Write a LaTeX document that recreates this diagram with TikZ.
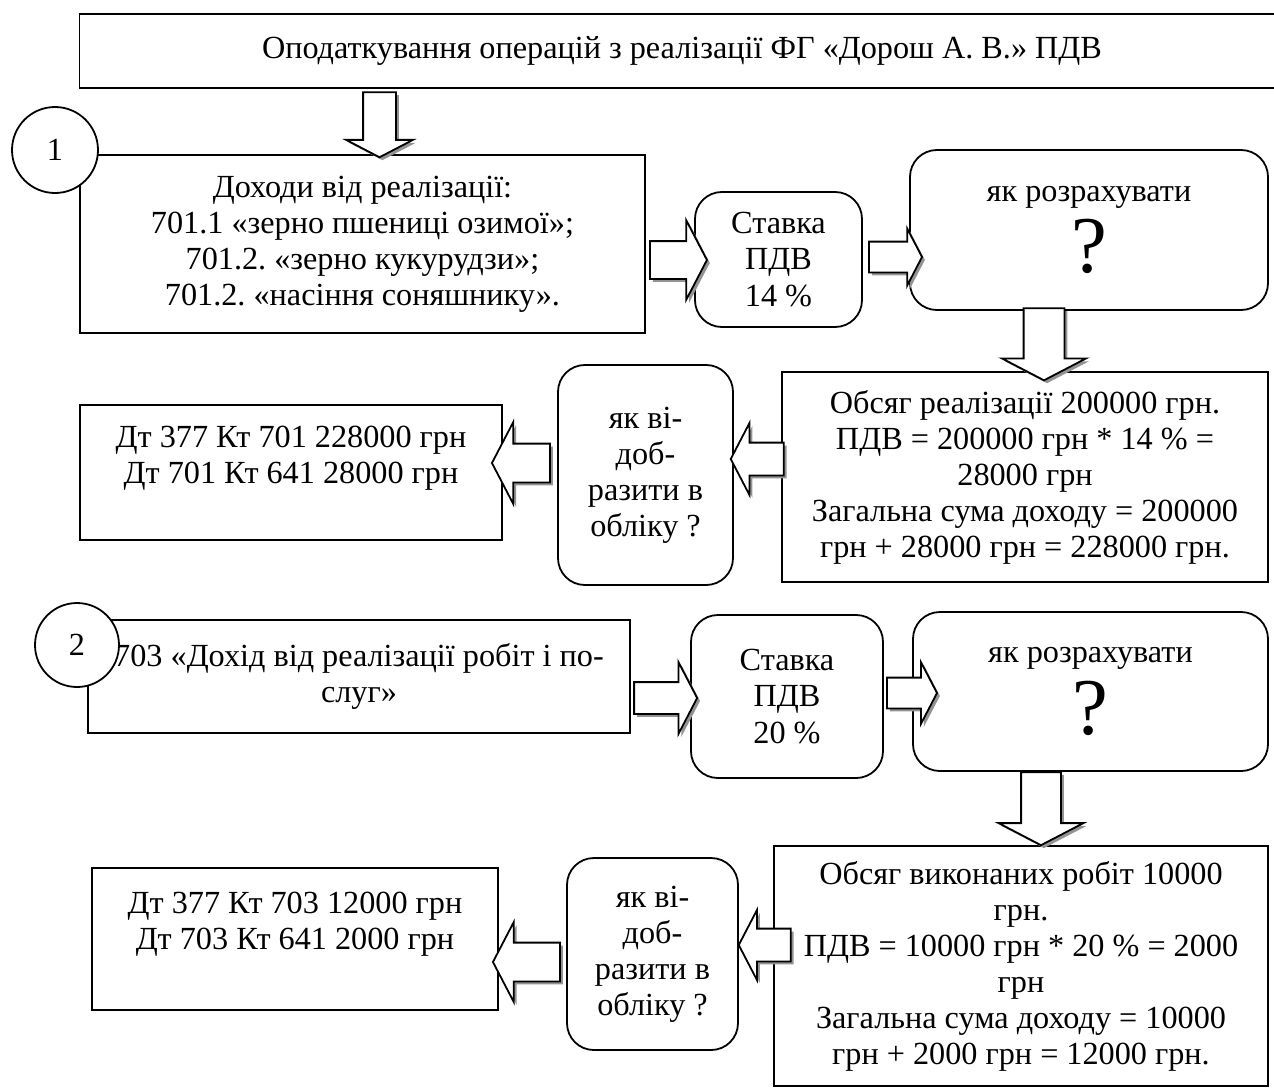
\documentclass[tikz,border=0pt]{standalone}
\usepackage{fontspec}
\setmainfont{Liberation Serif}
\usetikzlibrary{shapes.arrows,shadows}
\newcommand{\px}{0.0157cm}
\newcommand{\Qmark}{{\fontsize{36pt}{36pt}\selectfont ?}}
\tikzset{
  Tbox/.style={draw, line width=0.8pt, align=center, inner sep=0pt,
               font=\fontsize{14.4pt}{16.1pt}\selectfont},
  Rbox/.style={Tbox, rounded corners=12pt},
  Num/.style={draw, circle, line width=0.8pt, fill=white, inner sep=0pt,
              minimum size=86*\px, font=\fontsize{14.4pt}{16.1pt}\selectfont},
  Barr/.style={single arrow, draw, line width=0.8pt, fill=white,
               text height=0pt, text depth=0pt,
               single arrow tip angle=125, single arrow head indent=0pt,
               drop shadow={shadow xshift=1.3pt, shadow yshift=-1.3pt,
                            fill=gray!85, opacity=1}},
  Harr/.style n args={3}{Barr, inner xsep=0pt, inner ysep=#2*\px/2,
               minimum height=#1*\px, single arrow head extend=#3*\px/2-#2*\px/2},
  Varr/.style n args={3}{Barr, inner ysep=0pt, inner xsep=#2*\px/2,
               minimum height=#1*\px, single arrow head extend=#3*\px/2-#2*\px/2,
               shape border rotate=270},
  Rarr/.style={shape border rotate=0},
  Larr/.style={shape border rotate=180}
}
\begin{document}
\frenchspacing
\begin{tikzpicture}[x=\px, y=-\px]
  \useasboundingbox (0,0) rectangle (1274,1088);

  % title
  \node[Tbox, minimum width=1205*\px, minimum height=74*\px] (title) at (682,51)
    {Оподаткування операцій з реалізації ФГ «Дорош А. В.» ПДВ};

  % block 1
  \node[Tbox, minimum width=565*\px, minimum height=178*\px] (inc1) at (362.5,244)
    {Доходи від реалізації:\\701.1 «зерно пшениці озимої»;\\701.2. «зерно кукурудзи»;\\701.2. «насіння соняшнику».};
  \node[Rbox, minimum width=167*\px, minimum height=135*\px] (rate1) at (778.5,259.5)
    {Ставка\\ПДВ\\14 \%};
  \node[Rbox, minimum width=358*\px, minimum height=160*\px] (calc1) at (1089,230)
    {як розрахувати\\[4pt]\Qmark};
  \node[Tbox, minimum width=486*\px, minimum height=210*\px] (sum1) at (1025,477)
    {Обсяг реалізації 200000 грн.\\ПДВ = 200000 грн * 14 \% =\\28000 грн\\Загальна сума доходу = 200000\\грн + 28000 грн = 228000 грн.};
  \node[Rbox, minimum width=175*\px, minimum height=220*\px] (how1) at (645.5,475)
    {як ві-\\доб-\\разити в\\обліку ?};
  \node[Tbox, minimum width=422*\px, minimum height=135*\px] (post1) at (291,472.5)
    {Дт 377 Кт 701 228000 грн\\Дт 701 Кт 641 28000 грн\\ \mbox{}};

  % block 2
  \node[Tbox, minimum width=542*\px, minimum height=113*\px] (inc2) at (359,676.5)
    {703 «Дохід від реалізації робіт і по-\\слуг»};
  \node[Rbox, minimum width=192*\px, minimum height=163*\px] (rate2) at (787,696.5)
    {Ставка\\ПДВ\\20 \%};
  \node[Rbox, minimum width=355*\px, minimum height=159*\px] (calc2) at (1090.5,691.5)
    {як розрахувати\\[4pt]\Qmark};
  \node[Tbox, minimum width=494*\px, minimum height=240*\px] (sum2) at (1021,966)
    {Обсяг виконаних робіт 10000\\грн.\\ПДВ = 10000 грн * 20 \% = 2000\\грн\\Загальна сума доходу = 10000\\грн + 2000 грн = 12000 грн.};
  \node[Rbox, minimum width=171*\px, minimum height=192*\px] (how2) at (652.5,954)
    {як ві-\\доб-\\разити в\\обліку ?};
  \node[Tbox, minimum width=406*\px, minimum height=142*\px] (post2) at (295,939)
    {Дт 377 Кт 703 12000 грн\\Дт 703 Кт 641 2000 грн\\ \mbox{}};

  % block arrows
  \node[Varr={65}{31}{65}] (a1) at (379.5,120.5) {};
  \node[Harr={57}{36}{78}, Rarr] (a2) at (673.5,260) {};
  \node[Harr={53}{29}{55}, Rarr] (a3) at (891.5,257) {};
  \node[Varr={72}{39}{82}] (a4) at (1044,339) {};
  \node[Harr={53}{31}{70}, Larr] (a5) at (761.5,459) {};
  \node[Harr={58}{37}{80}, Larr] (a6) at (526,463) {};
  \node[Harr={63}{30}{70}, Rarr] (a7) at (661.5,698) {};
  \node[Harr={50}{29}{60}, Rarr] (a8) at (908,693) {};
  \node[Varr={73}{38}{83}] (a9) at (1041,803.5) {};
  \node[Harr={52}{31}{68}, Larr] (a10) at (769,945) {};
  \node[Harr={67}{37}{78}, Larr] (a11) at (531.5,962) {};

  % numbers
  \node[Num] (n1) at (55,150) {1};
  \node[Num, minimum size=84*\px] (n2) at (77,645) {2};
\end{tikzpicture}
\end{document}
